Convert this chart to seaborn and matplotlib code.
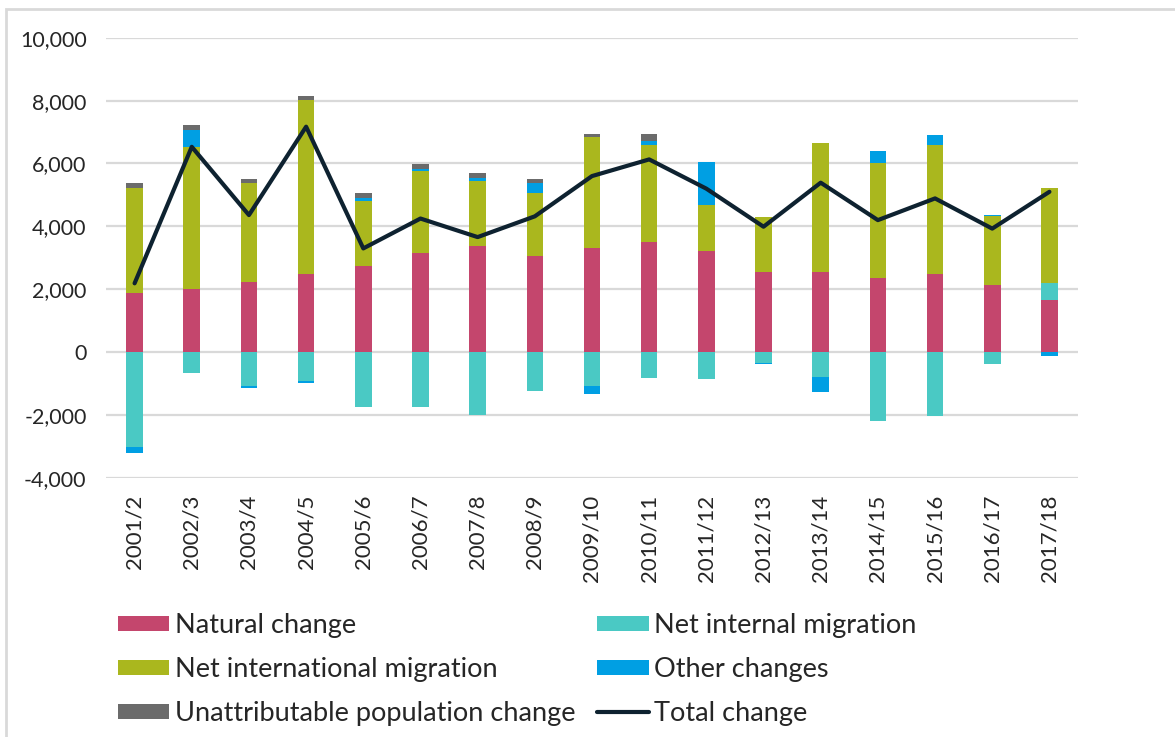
import numpy as np
import matplotlib
matplotlib.use("Agg")
import matplotlib.pyplot as plt
import seaborn as sns
from matplotlib.patches import Patch, Rectangle
from matplotlib.lines import Line2D
from matplotlib.ticker import FuncFormatter

# values
years = ["2001/2", "2002/3", "2003/4", "2004/5", "2005/6", "2006/7", "2007/8", "2008/9",
         "2009/10", "2010/11", "2011/12", "2012/13", "2013/14", "2014/15", "2015/16",
         "2016/17", "2017/18"]
natural = [1870, 2000, 2240, 2490, 2740, 3140, 3380, 3050, 3300, 3500, 3210, 2560, 2560, 2360, 2480, 2150, 1660]
internal = [-3030, -650, -1070, -930, -1750, -1750, -2000, -1220, -1070, -820, -860, -330, -780, -2200, -2040, -360, 530]
international = [3360, 4530, 3140, 5540, 2080, 2620, 2050, 2000, 3550, 3100, 1480, 1750, 4080, 3640, 4110, 2170, 3020]
other = [-160, 530, -70, -50, 85, 75, 120, 320, -270, 130, 1370, -40, -480, 390, 330, 30, -130]
unattrib = [160, 150, 130, 130, 150, 160, 160, 130, 75, 200, 0, 0, 0, 0, 0, 0, 0]
total = [2190, 6530, 4360, 7170, 3300, 4250, 3660, 4320, 5600, 6130, 5200, 3990, 5390, 4200, 4890, 3930, 5100]

series = [("Natural change", natural, "#C4466D"),
          ("Net internal migration", internal, "#4AC9C4"),
          ("Net international migration", international, "#AAB71E"),
          ("Other changes", other, "#009FE3"),
          ("Unattributable population change", unattrib, "#6B6B6B")]
line_col = "#0E2230"
text_col = "#262626"

sns.set_theme(style="white")
plt.rcParams['font.family'] = ['Lato', 'DejaVu Sans']

W, H = 1175, 737
fig = plt.figure(figsize=(W / 100, H / 100), dpi=100)
ax = fig.add_axes([106 / W, 1 - 478 / H, (1078 - 106) / W, (478 - 37.7) / H])

x = np.arange(len(years))
pos_bottom = np.zeros(len(years))
neg_bottom = np.zeros(len(years))
for name, vals, col in series:
    v = np.array(vals, dtype=float)
    bottom = np.where(v >= 0, pos_bottom, neg_bottom)
    ax.bar(x, v, bottom=bottom, width=0.29, color=col, linewidth=0, zorder=2)
    pos_bottom += np.clip(v, 0, None)
    neg_bottom += np.clip(v, None, 0)

sns.lineplot(x=x, y=total, color=line_col, lw=3, ax=ax, zorder=3)

ax.set_xlim(-0.5, len(years) - 0.5)
ax.set_ylim(-4000, 10000)
ax.set_yticks(range(-4000, 10001, 2000))
ax.yaxis.set_major_formatter(FuncFormatter(lambda v, p: f"{v:,.0f}"))
ax.set_xticks(x)
ax.set_xticklabels(years, rotation=90)
ax.grid(axis='y', color='#D9D9D9', lw=1.6)
ax.grid(axis='x', visible=False)
ax.set_axisbelow(True)
for s in ax.spines.values():
    s.set_visible(False)
ax.tick_params(axis='y', length=0, pad=14, labelsize=15.5, labelcolor=text_col)
ax.tick_params(axis='x', length=0, pad=12, labelsize=16, labelcolor=text_col)

# legend, two columns filled row by row
hd = {name: Patch(facecolor=col, edgecolor='none') for name, _, col in series}
order = ["Natural change", "Net international migration", "Unattributable population change",
         "Net internal migration", "Other changes"]
handles = [hd[n] for n in order] + [Line2D([], [], color=line_col, lw=3)]
labels = order + ["Total change"]
fig.legend(handles, labels, ncol=2, loc='upper left', bbox_to_anchor=(118 / W, 1 - 613 / H),
           frameon=False, fontsize=19.5, handlelength=1.9, handleheight=0.45, handletextpad=0.2,
           columnspacing=0.8, labelspacing=0.7, borderpad=0, borderaxespad=0, labelcolor=text_col)

# light chart frame
fig.patches.append(Rectangle((6 / W, -0.1), 1.2, 1.1 - 8.5 / H, transform=fig.transFigure,
                             fill=False, ec='#D9D9D9', lw=2))

fig.savefig("out.png", dpi=100)
